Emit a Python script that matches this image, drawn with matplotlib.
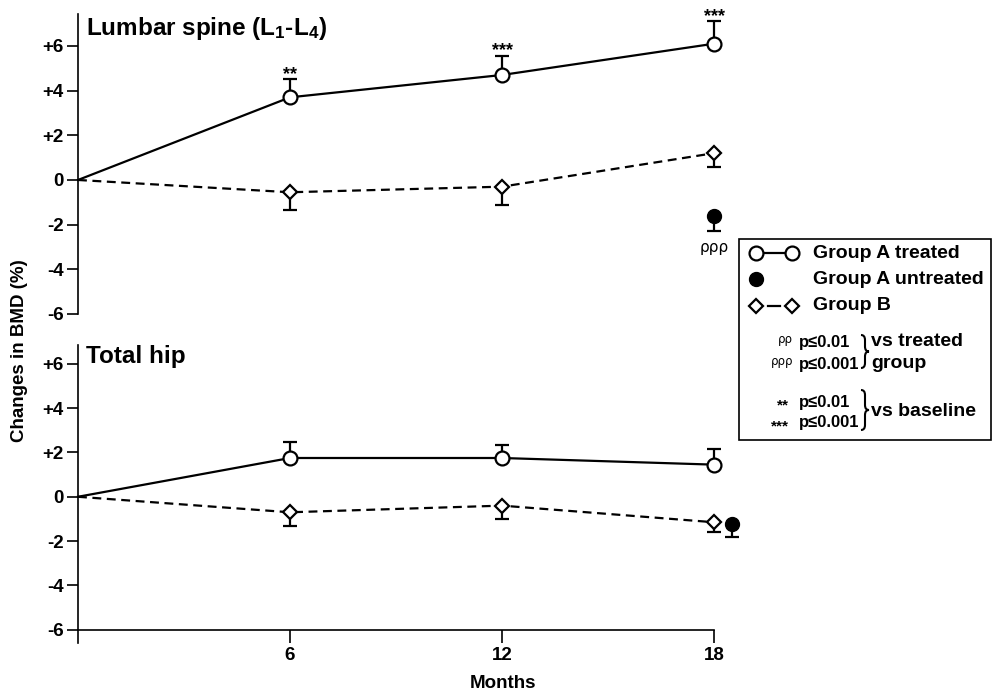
import matplotlib
matplotlib.use('Agg')
import matplotlib.pyplot as plt
from matplotlib.path import Path
from matplotlib.patches import PathPatch, Rectangle

plt.rcParams['font.family'] = ['Liberation Sans', 'DejaVu Sans']
plt.rcParams['font.weight'] = 'bold'
plt.rcParams['mathtext.fontset'] = 'custom'
plt.rcParams['mathtext.rm'] = 'Liberation Sans:bold'
plt.rcParams['mathtext.it'] = 'Liberation Sans:bold'
plt.rcParams['mathtext.bf'] = 'Liberation Sans:bold'

# data
months = [0, 6, 12, 18]
y_ticks = [-6, -4, -2, 0, 2, 4, 6]
y_tick_labels = ['-6', '-4', '-2', '0', '+2', '+4', '+6']
x_ticks = [6, 12, 18]

spine_treated = [0, 3.7, 4.7, 6.1]
spine_treated_err = [0, 0.8, 0.85, 1.0]
spine_b = [0, -0.55, -0.3, 1.2]
spine_b_err = [0, 0.8, 0.8, 0.6]
spine_untreated = (18, -1.6, 0.7)
spine_stars = ['', '**', '***', '***']
spine_rho = 'ρρρ'

hip_treated = [0, 1.75, 1.75, 1.45]
hip_treated_err = [0, 0.7, 0.6, 0.7]
hip_b = [0, -0.7, -0.4, -1.15]
hip_b_err = [0, 0.6, 0.6, 0.45]
hip_untreated = (18.5, -1.25, 0.55)
hip_rho = 'ρρ'

W, H = 997, 693
fig = plt.figure(figsize=(W / 100, H / 100), dpi=100)

LW = 1.6
MS = 10


def panel(ax, treated, t_err, grp_b, b_err, untreated, stars, rho):
    zeros = [0] * (len(months) - 1)
    eb = ax.errorbar(months[1:], treated[1:], yerr=[zeros, t_err[1:]], fmt='none',
                     ecolor='black', elinewidth=LW, capsize=5, capthick=LW, zorder=2)
    eb2 = ax.errorbar(months[1:], grp_b[1:], yerr=[b_err[1:], zeros], fmt='none',
                      ecolor='black', elinewidth=LW, capsize=5, capthick=LW, zorder=2)
    ax.plot(months, treated, '-', color='black', lw=LW, zorder=3, clip_on=False)
    ax.plot(months, grp_b, color='black', lw=LW, dashes=(4, 2.5), zorder=3, clip_on=False)
    ax.plot(months[1:], treated[1:], 'o', ms=MS, mfc='white', mec='black', mew=LW,
            zorder=4, clip_on=False)
    ax.plot(months[1:], grp_b[1:], 'D', ms=MS * 0.75, mfc='white', mec='black', mew=LW,
            zorder=4, clip_on=False)
    ux, uy, ue = untreated
    eb3 = ax.errorbar([ux], [uy], yerr=[[ue], [0]], fmt='o', ms=MS, color='black',
                      elinewidth=LW, capsize=5, capthick=LW, zorder=4)
    for c in (eb, eb2, eb3):
        for art in c.get_children():
            art.set_clip_on(False)
    for x, y, e, s in zip(months, treated, t_err, stars):
        if s:
            ax.annotate(s, (x, y + e), xytext=(0, 0.5), textcoords='offset points',
                        ha='center', va='baseline', fontsize=13)
    ax.annotate(rho, (ux, uy - ue), xytext=(0, -6), textcoords='offset points',
                ha='center', va='top', fontsize=11, fontweight='normal',
                family=['DejaVu Sans'])

    ax.set_xlim(0, 18)
    ax.set_yticks(y_ticks)
    ax.set_yticklabels(y_tick_labels)
    ax.tick_params(axis='y', direction='out', length=8, width=1.2, pad=2.5, labelsize=13.5)
    for side in ('top', 'right'):
        ax.spines[side].set_visible(False)
    ax.spines['left'].set_linewidth(1.2)
    ax.patch.set_alpha(0)


def px_axes(left, top, right, bottom):
    return fig.add_axes([left / W, 1 - bottom / H, (right - left) / W, (bottom - top) / H])


ax1 = px_axes(78, 14, 714, 314)
panel(ax1, spine_treated, spine_treated_err, spine_b, spine_b_err, spine_untreated,
      spine_stars, spine_rho)
ax1.set_ylim(-6, 7.43)
ax1.spines['bottom'].set_visible(False)
ax1.set_xticks([])

ax2 = px_axes(78, 345, 714, 643)
panel(ax2, hip_treated, hip_treated_err, hip_b, hip_b_err, hip_untreated,
      ['', '', '', ''], hip_rho)
ax2.set_ylim(-6.6, 6.85)
ax2.spines['bottom'].set_position(('data', -6))
ax2.spines['bottom'].set_linewidth(1.2)
ax2.set_xticks(x_ticks)
ax2.set_xticklabels([str(m) for m in x_ticks])
ax2.tick_params(axis='x', direction='out', length=9.5, width=1.2, pad=3, labelsize=13.5)

# overlay in pixel coordinates for titles and legend
ov = fig.add_axes([0, 0, 1, 1], zorder=10)
ov.set_xlim(0, W)
ov.set_ylim(H, 0)
ov.axis('off')
ov.patch.set_alpha(0)

ov.text(86, 28, 'Lumbar spine (L$_{1}$-L$_{4}$)', fontsize=17.5, va='center', ha='left')
ov.text(86, 357, 'Total hip', fontsize=17.5, va='center', ha='left')
fig.text(20 / W, 1 - 351 / H, 'Changes in BMD (%)', rotation=90, fontsize=13.5,
         ha='center', va='center')
ov.text(503, 683, 'Months', fontsize=13.5, ha='center', va='center')

ov.add_patch(Rectangle((739, 239), 252, 201, fill=False, lw=1.2, ec='black'))
ov.plot([756, 792], [253, 253], '-', color='black', lw=LW)
ov.plot([756, 792], [253, 253], 'o', ms=MS, mfc='white', mec='black', mew=LW)
ov.plot([756], [279], 'o', ms=MS, color='black')
ov.plot([768, 780], [306, 306], '-', color='black', lw=LW)
ov.plot([756, 792], [306, 306], 'D', ms=MS * 0.75, mfc='white', mec='black', mew=LW)
ov.text(813, 253, 'Group A treated', fontsize=14, va='center')
ov.text(813, 279, 'Group A untreated', fontsize=14, va='center')
ov.text(813, 306, 'Group B', fontsize=14, va='center')

sig_rows = [('ρρ', 343), ('ρρρ', 365)]
base_rows = [('**', 402), ('***', 423)]
p_texts = ['p≤0.01', 'p≤0.001']
for (sym, y), p in zip(sig_rows, p_texts):
    ov.text(793, y - 4, sym, fontsize=8.5, fontweight='normal', family=['DejaVu Sans'],
            ha='right', va='center')
    ov.text(799, y, p, fontsize=12, va='center')
for (sym, y), p in zip(base_rows, p_texts):
    ov.text(789, y + 3, sym, fontsize=11, ha='right', va='center')
    ov.text(799, y, p, fontsize=12, va='center')


def brace(x, top, bottom, w=8):
    xm = x + w / 2
    mid = (top + bottom) / 2
    r = 5
    verts = [(x, top), (xm, top), (xm, top + r),
             (xm, mid - r),
             (xm, mid), (x + w, mid),
             (xm, mid), (xm, mid + r),
             (xm, bottom - r),
             (xm, bottom), (x, bottom)]
    codes = [Path.MOVETO, Path.CURVE3, Path.CURVE3,
             Path.LINETO,
             Path.CURVE3, Path.CURVE3,
             Path.CURVE3, Path.CURVE3,
             Path.LINETO,
             Path.CURVE3, Path.CURVE3]
    ov.add_patch(PathPatch(Path(verts, codes), fill=False, lw=1.5, ec='black'))


brace(861, 335, 368)
brace(861, 390, 430)
ov.text(871, 341, 'vs treated', fontsize=14, va='center')
ov.text(871, 363, 'group', fontsize=14, va='center')
ov.text(871, 412, 'vs baseline', fontsize=14, va='center')

fig.savefig('out.png', dpi=100)
